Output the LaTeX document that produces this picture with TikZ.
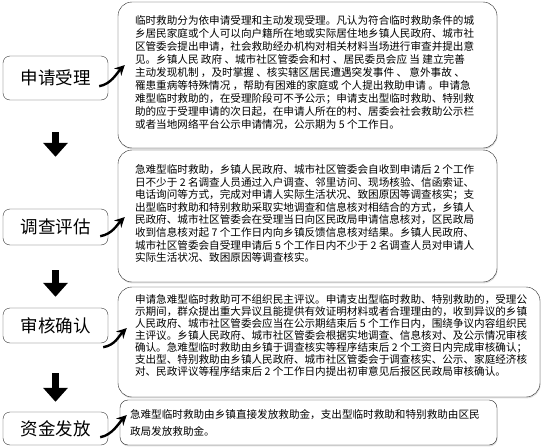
\documentclass[tikz,border=0pt]{standalone}
\usepackage{fontspec}
\newfontfamily\cjk{Noto Sans CJK SC}
\usetikzlibrary{arrows.meta,shadows}
\tikzset{
    stagebox/.style={draw=black!80, rounded corners=7pt, inner sep=0pt,
                     minimum width=105pt, minimum height=#1,
                     font=\cjk\fontsize{17.5}{17.5}\selectfont},
    descbox/.style={draw=black!85, fill=white, rounded corners=14pt, inner sep=0pt,
                    drop shadow={shadow xshift=0.6pt, shadow yshift=-1.4pt, fill=black!25}},
    desctext/.style={anchor=north west, inner sep=0pt, align=left,
                     font=\cjk\fontsize{10.6}{#1}\selectfont},
    desctext/.default=12.4,
    downarr/.style={line width=7pt, -{Triangle[length=14pt, width=24pt]}},
    swoosh/.style={line width=2.4pt, -{Stealth[length=10pt, width=10pt]}},
}

\begin{document}
\begin{tikzpicture}[x=1pt, y=-1pt]
    \useasboundingbox (0,0) rectangle (544,447);

    % stages on the left
    \node[stagebox=44pt] (l1) at (55.5,78) {申请受理};
    \node[stagebox=36pt] (l2) at (55.5,227) {调查评估};
    \node[stagebox=35pt] (l3) at (55.5,325.5) {审核确认};
    \node[stagebox=33pt] (l4) at (55.5,428.5) {资金发放};

    \draw[downarr, shorten <=32pt, shorten >=52pt] (l1.south) -- (l2.north);
    \draw[downarr, shorten <=25pt, shorten >=11pt] (l2.south) -- (l3.north);
    \draw[downarr, shorten <=30pt, shorten >=10pt] (l3.south) -- (l4.north);

    % descriptions on the right
    \node[descbox, minimum width=379pt, minimum height=146pt] (d1) at (307.5,75) {};
    \node[descbox, minimum width=379pt, minimum height=132pt] (d2) at (307.5,216) {};
    \node[descbox, minimum width=422pt, minimum height=110pt] (d3) at (329,342) {};
    \node[descbox, rounded corners=8pt, minimum width=377pt, minimum height=45pt] (d4) at (308.5,422.5) {};

    \node[desctext=12.9] (t1) at ([shift={(17,14)}]d1.north west) {%
        临时救助分为依申请受理和主动发现受理。凡认为符合临时救助条件的城\\
        乡居民家庭或个人可以向户籍所在地或实际居住地乡镇人民政府、城市社\\
        区管委会提出申请，社会救助经办机构对相关材料当场进行审查并提出意\\
        见。乡镇人民 政府 、城市社区管委会和村 、居民委员会应 当 建立完善\\
        主动发现机制 ，及时掌握 、核实辖区居民遭遇突发事件 、 意外事故 、\\
        罹患重病等特殊情况 ，帮助有困难的家庭或 个人提出救助申请 。申请急\\
        难型临时救助的，在受理阶段可不予公示；申请支出型临时救助、特别救\\
        助的应于受理申请的次日起，在申请人所在的村、居委会社会救助公示栏\\
        或者当地网络平台公示申请情况，公示期为 5 个工作日。};
    \node[desctext=12.6] (t2) at ([shift={(17,14.5)}]d2.north west) {%
        急难型临时救助，乡镇人民政府、城市社区管委会自收到申请后 2 个工作\\
        日不少于 2 名调查人员通过入户调查、邻里访问、现场核验、信函索证、\\
        电话询问等方式，完成对申请人实际生活状况、致困原因等调查核实；支\\
        出型临时救助和特别救助采取实地调查和信息核对相结合的方式，乡镇人\\
        民政府、城市社区管委会在受理当日向区民政局申请信息核对，区民政局\\
        收到信息核对起 7 个工作日内向乡镇反馈信息核对结果。乡镇人民政府、\\
        城市社区管委会自受理申请后 5 个工作日内不少于 2 名调查人员对申请人\\
        实际生活状况、致困原因等调查核实。};
    \node[desctext=12] (t3) at ([shift={(17,7.7)}]d3.north west) {%
        申请急难型临时救助可不组织民主评议。申请支出型临时救助、特别救助的，受理公\\
        示期间，群众提出重大异议且能提供有效证明材料或者合理理由的，收到异议的乡镇\\
        人民政府、城市社区管委会应当在公示期结束后 5 个工作日内，围绕争议内容组织民\\
        主评议。乡镇人民政府、城市社区管委会根据实地调查、信息核对、及公示情况审核\\
        确认。急难型临时救助由乡镇于调查核实等程序结束后 2 个工资日内完成审核确认；\\
        支出型、特别救助由乡镇人民政府、城市社区管委会于调查核实、公示、家庭经济核\\
        对、民政评议等程序结束后 2 个工作日内提出初审意见后报区民政局审核确认。};
    \node[desctext=17] (t4) at ([shift={(10,9.7)}]d4.north west) {%
        急难型临时救助由乡镇直接发放救助金，支出型临时救助和特别救助由区民\\
        政局发放救助金。};

    % curved arrows from stage to description
    \draw[swoosh] ([shift={(-9,-14)}]l1.south east) .. controls +(12,-2) and +(-8,8) .. ([shift={(7,-10)}]d1.west);
    \draw[swoosh] ([shift={(-8,-9)}]l2.south east) .. controls +(12,-2) and +(-8,8) .. ([shift={(7,1)}]d2.west);
    \draw[swoosh] ([shift={(-5,4)}]l3.south east) .. controls +(12,-2) and +(-8,8) .. ([shift={(9,-14)}]d3.west);
    \draw[swoosh] ([shift={(-8,-8)}]l4.south east) .. controls +(12,-2) and +(-8,8) .. ([shift={(7,-7.5)}]d4.west);
\end{tikzpicture}
\end{document}
